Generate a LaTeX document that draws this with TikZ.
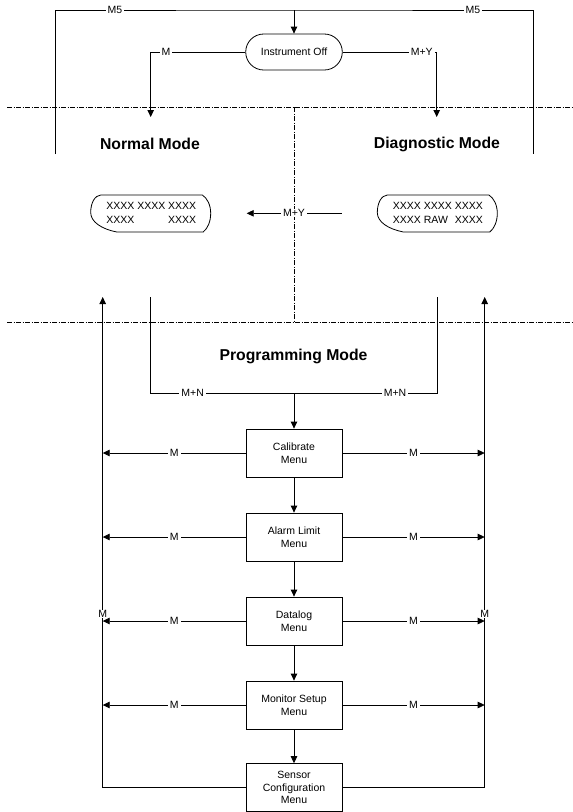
\documentclass[tikz,border=0pt]{standalone}
\usepackage{fontspec}
\setmainfont{Liberation Sans}
\usetikzlibrary{arrows.meta,calc}
\begin{document}
\begin{tikzpicture}[x=1pt,y=-1pt,
  every node/.style={font=\fontsize{10.5}{12.5}\selectfont, inner sep=0pt},
  ln/.style={line width=0.8pt, draw=black},
  arr/.style={ln, -{Triangle[length=7pt,width=6.5pt]}},
  lbl/.style={fill=white, inner xsep=2pt, inner ysep=0.5pt},
  menubox/.style={draw, line width=0.8pt, minimum width=96pt, minimum height=48pt, align=center},
  title/.style={font=\fontsize{15.75}{18}\selectfont\bfseries},
  disptext/.style={font=\fontsize{10.5}{14}\selectfont},
  dashln/.style={line width=0.5pt, dash pattern=on 5pt off 1.5pt on 1pt off 1.5pt}
]
\useasboundingbox (0,0) rectangle (573,812);

% dash-dot region separators
\coordinate (dl1) at (7,107);   \coordinate (dr1) at (573,107);
\coordinate (dc1) at (294,107); \coordinate (dc2) at (294,322);
\coordinate (dl2) at (7,322);   \coordinate (dr2) at (573,322);
\draw[dashln] (dl1) -- (dr1);
\draw[dashln] (dc1) -- (dc2);
\draw[dashln] (dl2) -- (dr2);

% Instrument Off
\node[ln, draw, rounded corners=18pt, minimum width=96.6pt, minimum height=36pt] (io) at (294,52) {Instrument Off};

% M5 loop
\coordinate (top) at (294,10);
\coordinate (tl) at (55,154);
\coordinate (tr) at (533,154);
\draw[ln] (tl) |- (top) -| (tr);
\draw[arr] (top) -- (io);
\node[lbl] (m5l) at (115,10) {M5};
\node[lbl] (m5r) at (473,10) {M5};

% to modes
\coordinate (nt) at (150.7,117);
\coordinate (dt) at (436.7,117);
\draw[arr] (io) -| (nt);
\draw[arr] (io) -| (dt);
\node[lbl] (ml) at (166,52) {M};
\node[lbl] (myl) at (421.7,52) {M+Y};

% titles
\node[title] (nm) at (150,144) {Normal Mode};
\node[title] (dmode) at (437,144) {Diagnostic Mode};
\node[title] (pm) at (293.5,356) {Programming Mode};

% displays
\begin{scope}[shift={(90.7,195)}]
\draw[ln] (10,0) -- (111.6,0) .. controls (116.5,3) and (120,10) .. (120,18.3)
  .. controls (120,26.5) and (117,33.5) .. (112.5,37) -- (26,37)
  .. controls (11,34) and (0,27) .. (0,17.5) .. controls (0,8) and (4,0.5) .. (10,0) -- cycle;
\end{scope}
\node[disptext] (dispL) at (151.3,213.7) {\begin{tabular}{@{}l@{}}XXXX XXXX XXXX\\XXXX\hfill XXXX\end{tabular}};
\begin{scope}[shift={(377.3,195)}]
\draw[ln] (10,0) -- (111.6,0) .. controls (116.5,3) and (120,10) .. (120,18.3)
  .. controls (120,26.5) and (117,33.5) .. (112.5,37) -- (26,37)
  .. controls (11,34) and (0,27) .. (0,17.5) .. controls (0,8) and (4,0.5) .. (10,0) -- cycle;
\end{scope}
\node[disptext] (dispR) at (437.9,213.7) {\begin{tabular}{@{}l@{}}XXXX XXXX XXXX\\XXXX RAW\hfill XXXX\end{tabular}};

% M+Y between displays
\coordinate (mys) at (341.7,213.3);
\coordinate (mye) at (246.7,213.3);
\draw[arr] (mys) -- (mye);
\node[lbl] (myl2) at (294,213.3) {M+Y};

% into programming mode
\coordinate (nd) at (150.7,297);
\coordinate (dd) at (437.3,297);
\coordinate (pmj) at (294,393);
\draw[ln] (nd) |- (pmj);
\draw[ln] (dd) |- (pmj);
\node[lbl] (mnl) at (192.7,393) {M+N};
\node[lbl] (mnr) at (395,393) {M+N};

% menus
\node[menubox] (cal) at (294,453) {Calibrate\\Menu};
\node[menubox] (alm) at (294,537) {Alarm Limit\\Menu};
\node[menubox] (dlog) at (294,621) {Datalog\\Menu};
\node[menubox] (mon) at (294,705) {Monitor Setup\\Menu};
\node[menubox] (sen) at (294,787.6) {Sensor\\Configuration\\Menu};

\draw[arr] (pmj) -- (cal);
\draw[arr] (cal) -- (alm);
\draw[arr] (alm) -- (dlog);
\draw[arr] (dlog) -- (mon);
\draw[arr] (mon) -- (sen);

% return lines
\coordinate (lu) at (102.7,297);
\coordinate (ru) at (484.7,297);
\draw[arr] (sen) -| (lu);
\draw[arr] (sen) -| (ru);
\node[lbl] (mvl) at (102.7,614) {M};
\node[lbl] (mvr) at (484.7,614) {M};

\foreach \b in {cal,alm,dlog,mon}{
  \draw[arr] (\b) -- (\b -| lu) node[lbl, midway] (L-\b) {M};
  \draw[arr] (\b) -- (\b -| ru) node[lbl, midway] (R-\b) {M};
}
\end{tikzpicture}
\end{document}
